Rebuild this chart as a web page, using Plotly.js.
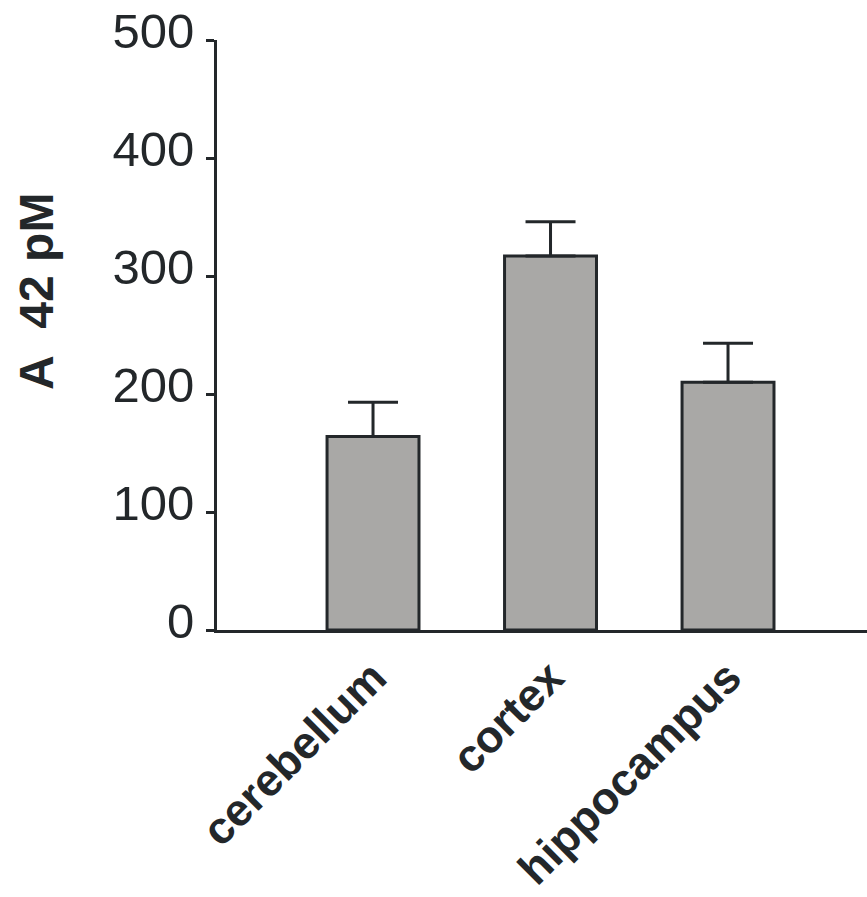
<!DOCTYPE html>
<html>
<head>
<meta charset="utf-8">
<script src="https://cdn.plot.ly/plotly-3.0.1.min.js"></script>
<style>html,body{margin:0;padding:0;background:#fff;}#chart{width:867px;height:897px;}</style>
</head>
<body>
<div id="chart"></div>
<script>
var categories = ["cerebellum", "cortex", "hippocampus"];
var values = [164, 317, 210];
var errorsUp = [29, 29, 33];
var errorsDown = [0, 0, 0];
var yTickVals = [0, 100, 200, 300, 400, 500];
var yTickText = ["0", "100", "200", "300", "400", "500"];
var yTitle = "A\u00a0\u00a042 pM";

var ink = "#23272a";

var trace = {
  type: "bar",
  x: categories,
  y: values,
  marker: {color: "#a9a8a6", line: {color: ink, width: 3}},
  error_y: {type: "data", symmetric: false, array: errorsUp, arrayminus: errorsDown,
            color: ink, thickness: 3, width: 25},
  hoverinfo: "skip"
};

var layout = {
  width: 867, height: 897,
  margin: {l: 217, r: 0, t: 40, b: 267},
  paper_bgcolor: "#ffffff", plot_bgcolor: "#ffffff",
  showlegend: false,
  bargap: 0.482,
  xaxis: {
    range: [-0.879, 2.783],
    showline: true, linecolor: ink, linewidth: 3,
    ticks: "", showgrid: false, zeroline: false,
    tickangle: -45,
    tickfont: {family: "Liberation Sans, Arial, sans-serif", size: 45, color: ink, weight: "bold"}
  },
  yaxis: {
    range: [0, 500],
    tickvals: yTickVals, ticktext: yTickText,
    showline: true, linecolor: ink, linewidth: 3,
    ticks: "outside", ticklen: 8, tickwidth: 3, tickcolor: ink,
    showgrid: false, zeroline: false,
    ticklabelstandoff: 2,
    ticklabelshift: -9,
    tickfont: {family: "Liberation Sans, Arial, sans-serif", size: 49, color: ink}
  },
  annotations: [{
    text: yTitle, textangle: -90, showarrow: false,
    xref: "paper", yref: "paper",
    x: (36 - 217) / 650, y: (630 - 292) / 590,
    xanchor: "center", yanchor: "middle",
    font: {family: "Liberation Sans, Arial, sans-serif", size: 48, color: ink, weight: "bold"}
  }]
};

Plotly.newPlot("chart", [trace], layout, {displayModeBar: false, staticPlot: true});
</script>
</body>
</html>
